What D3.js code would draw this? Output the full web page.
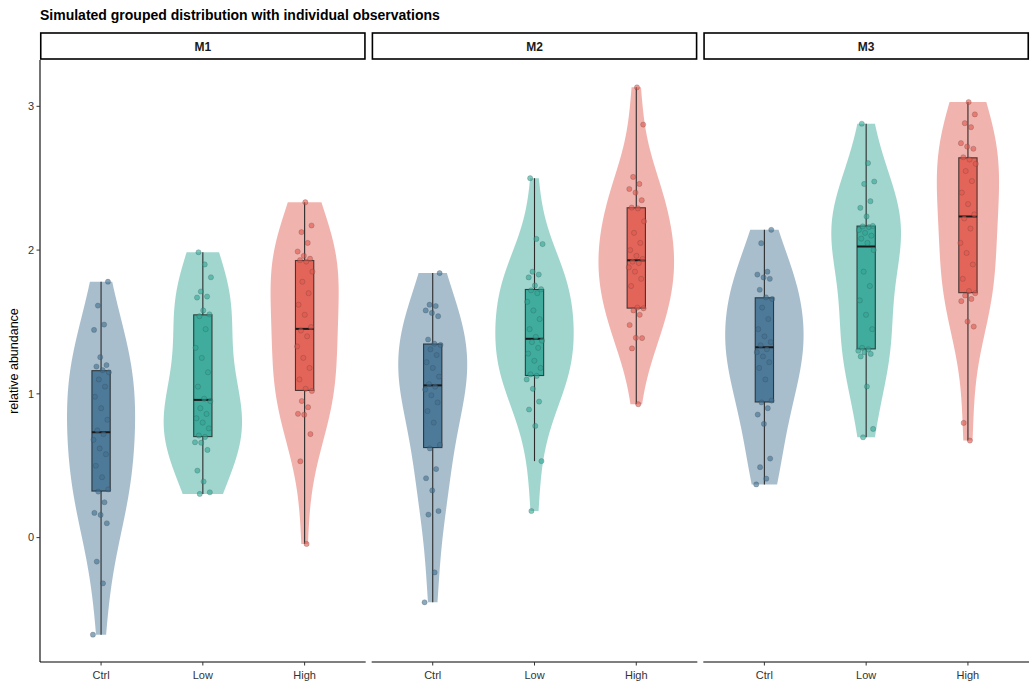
<!DOCTYPE html>
<html>
<head>
<meta charset="utf-8">
<style>
  body { margin: 0; background: #fff; font-family: "Liberation Sans", Arial, sans-serif; }
  .tick-label { font-size: 11px; fill: #333; }
  .strip-label { font-size: 12px; font-weight: bold; fill: #1a1a1a; }
  .title { font-size: 14px; font-weight: bold; fill: #000; }
  .axis-title { font-size: 12.5px; fill: #000; }
</style>
</head>
<body>
<svg id="chart" width="1036" height="690"></svg>
<script src="https://cdnjs.cloudflare.com/ajax/libs/d3/7.8.5/d3.min.js"></script>
<script>
// facets and groups
const facets = ["M1", "M2", "M3"];
const groups = ["Ctrl", "Low", "High"];
const groupColors = ["#3E6E90", "#2EA595", "#E0574B"];
const yTicks = [0, 1, 2, 3];

// observations (30 per group)
const m1Ctrl = [-0.675, -0.318, -0.167, 0.1, 0.158, 0.172, 0.246, 0.32, 0.335, 0.42,
  0.5, 0.58, 0.62, 0.68, 0.72, 0.746, 0.82, 0.9, 0.98, 1.05,
  1.1, 1.15, 1.165, 1.19, 1.2, 1.255, 1.445, 1.482, 1.614, 1.78];
const m1Low = [0.304, 0.315, 0.39, 0.466, 0.61, 0.66, 0.663, 0.7, 0.71, 0.76,
  0.8, 0.83, 0.86, 0.9, 0.95, 0.966, 1.05, 1.15, 1.25, 1.32,
  1.45, 1.54, 1.553, 1.58, 1.67, 1.677, 1.712, 1.811, 1.9, 1.985];
const m1High = [-0.044, 0.531, 0.72, 0.855, 0.861, 0.907, 0.95, 1.02, 1.035, 1.1,
  1.18, 1.25, 1.33, 1.4, 1.44, 1.464, 1.55, 1.62, 1.7, 1.78,
  1.85, 1.92, 1.93, 1.94, 1.96, 1.99, 2.05, 2.125, 2.171, 2.333];
const m2Ctrl = [-0.45, -0.242, 0.16, 0.185, 0.328, 0.413, 0.477, 0.62, 0.645, 0.8,
  0.88, 0.94, 0.99, 1.03, 1.05, 1.068, 1.12, 1.18, 1.22, 1.27,
  1.31, 1.34, 1.349, 1.378, 1.54, 1.563, 1.58, 1.611, 1.62, 1.84];
const m2Low = [0.185, 0.532, 0.777, 0.891, 0.946, 1.035, 1.1, 1.125, 1.135, 1.18,
  1.23, 1.28, 1.32, 1.36, 1.37, 1.396, 1.45, 1.52, 1.58, 1.64,
  1.7, 1.72, 1.728, 1.754, 1.81, 1.83, 1.85, 2.042, 2.078, 2.5];
const m2High = [0.928, 1.316, 1.388, 1.39, 1.479, 1.55, 1.58, 1.595, 1.6, 1.75,
  1.8, 1.85, 1.88, 1.91, 1.92, 1.938, 1.96, 2.0, 2.05, 2.12,
  2.2, 2.29, 2.296, 2.347, 2.4, 2.425, 2.46, 2.509, 2.873, 3.132];
const m3Ctrl = [0.37, 0.41, 0.49, 0.55, 0.791, 0.856, 0.9, 0.94, 0.953, 1.1,
  1.18, 1.22, 1.26, 1.29, 1.31, 1.338, 1.36, 1.4, 1.45, 1.52,
  1.6, 1.66, 1.671, 1.724, 1.8, 1.81, 1.83, 1.85, 2.048, 2.141];
const m3Low = [0.698, 0.756, 1.051, 1.26, 1.278, 1.29, 1.3, 1.31, 1.32, 1.45,
  1.55, 1.65, 1.75, 1.85, 2.0, 2.05, 2.08, 2.1, 2.12, 2.14,
  2.16, 2.165, 2.168, 2.234, 2.294, 2.34, 2.46, 2.477, 2.605, 2.879];
const m3High = [0.675, 0.798, 1.468, 1.503, 1.645, 1.66, 1.684, 1.7, 1.715, 1.8,
  1.9, 1.98, 2.05, 2.15, 2.22, 2.248, 2.32, 2.4, 2.48, 2.55,
  2.6, 2.63, 2.646, 2.705, 2.72, 2.744, 2.855, 2.883, 2.944, 3.03];

const facetData = {
  M1: [m1Ctrl, m1Low, m1High],
  M2: [m2Ctrl, m2Low, m2High],
  M3: [m3Ctrl, m3Low, m3High]
};

const width = 1036, height = 690;
const plotTop = 60, plotBottom = 662, left = 40, right = 1029;
const stripTop = 33;
const bwAdjust = 1.3;

const svg = d3.select("#chart");

// y scale with 5% expansion like ggplot
const allVals = [].concat(...facets.map(f => [].concat(...facetData[f])));
const [vMin, vMax] = d3.extent(allVals);
const pad = (vMax - vMin) * 0.05;
const y = d3.scaleLinear().domain([vMin - pad, vMax + pad]).range([plotBottom, plotTop]);

const panelX = d3.scaleBand().domain(facets).range([left, right]).paddingInner(0.018);
const pw = panelX.bandwidth();

function nrd0(v) {
  const s = d3.deviation(v);
  const iqr = d3.quantile(v, 0.75) - d3.quantile(v, 0.25);
  const lo = Math.min(s, iqr / 1.34);
  return 0.9 * lo * Math.pow(v.length, -0.2);
}

function kde(v, bw, n) {
  const lo = d3.min(v), hi = d3.max(v);
  const out = [];
  for (let i = 0; i < n; i++) {
    const t = lo + (hi - lo) * i / (n - 1);
    let s = 0;
    v.forEach(x => {
      const z = (t - x) / bw;
      s += Math.exp(-0.5 * z * z);
    });
    out.push({ t: t, d: s / (v.length * bw * Math.sqrt(2 * Math.PI)) });
  }
  return out;
}

// title
svg.append("text").attr("class", "title").attr("x", left).attr("y", 20)
  .text("Simulated grouped distribution with individual observations");

// y axis title
svg.append("text").attr("class", "axis-title")
  .attr("transform", `translate(18,${(plotTop + plotBottom) / 2}) rotate(-90)`)
  .attr("text-anchor", "middle")
  .text("relative abundance");

// y axis (only on first panel)
const yAxis = svg.append("g");
yAxis.append("line").attr("x1", left).attr("x2", left)
  .attr("y1", plotTop).attr("y2", plotBottom)
  .attr("stroke", "#000").attr("stroke-width", 1.1);
yTicks.forEach(t => {
  yAxis.append("line").attr("x1", left - 3.5).attr("x2", left)
    .attr("y1", y(t)).attr("y2", y(t)).attr("stroke", "#333").attr("stroke-width", 1);
  yAxis.append("text").attr("class", "tick-label")
    .attr("x", left - 6).attr("y", y(t)).attr("dy", "0.35em")
    .attr("text-anchor", "end").text(t);
});

facets.forEach(f => {
  const x0 = panelX(f);
  const g = svg.append("g");
  const x = d3.scalePoint().domain(groups).range([x0, x0 + pw]).padding(0.6);
  const unit = x.step();
  const violinHalf = unit * 0.77 / 2;
  const boxHalf = unit * 0.18 / 2;

  // strip
  g.append("rect").attr("x", x0 + 0.75).attr("y", stripTop)
    .attr("width", pw - 1.5).attr("height", plotTop - stripTop - 1)
    .attr("fill", "#fff").attr("stroke", "#000").attr("stroke-width", 1.6);
  g.append("text").attr("class", "strip-label")
    .attr("x", x0 + pw / 2).attr("y", (stripTop + plotTop) / 2).attr("dy", "0.35em")
    .attr("text-anchor", "middle").text(f);

  // bottom axis
  g.append("line").attr("x1", x0).attr("x2", x0 + pw)
    .attr("y1", plotBottom).attr("y2", plotBottom)
    .attr("stroke", "#000").attr("stroke-width", 1.1);
  groups.forEach(gr => {
    g.append("line").attr("x1", x(gr)).attr("x2", x(gr))
      .attr("y1", plotBottom).attr("y2", plotBottom + 3.5)
      .attr("stroke", "#333").attr("stroke-width", 1);
    g.append("text").attr("class", "tick-label")
      .attr("x", x(gr)).attr("y", plotBottom + 17)
      .attr("text-anchor", "middle").text(gr);
  });

  // densities, scaled by area within the panel
  const series = facetData[f].map(v => v.slice().sort(d3.ascending));
  const dens = series.map(v => kde(v, nrd0(v) * bwAdjust, 512));
  const maxD = d3.max(dens, ds => d3.max(ds, p => p.d));
  const w = d3.scaleLinear().domain([0, maxD]).range([0, violinHalf]);

  series.forEach((v, gi) => {
    const cx = x(groups[gi]);
    const col = groupColors[gi];

    const area = d3.area()
      .y(p => y(p.t))
      .x0(p => cx - w(p.d))
      .x1(p => cx + w(p.d));
    g.append("path").attr("d", area(dens[gi]))
      .attr("fill", col).attr("fill-opacity", 0.45).attr("stroke", "none");

    const q1 = d3.quantile(v, 0.25), med = d3.quantile(v, 0.5), q3 = d3.quantile(v, 0.75);
    const iqr = q3 - q1;
    const lowW = d3.min(v.filter(d => d >= q1 - 1.5 * iqr));
    const highW = d3.max(v.filter(d => d <= q3 + 1.5 * iqr));

    g.append("line").attr("x1", cx).attr("x2", cx)
      .attr("y1", y(highW)).attr("y2", y(q3))
      .attr("stroke", "#2b2b2b").attr("stroke-width", 1.1);
    g.append("line").attr("x1", cx).attr("x2", cx)
      .attr("y1", y(q1)).attr("y2", y(lowW))
      .attr("stroke", "#2b2b2b").attr("stroke-width", 1.1);
    g.append("rect").attr("x", cx - boxHalf).attr("y", y(q3))
      .attr("width", boxHalf * 2).attr("height", y(q1) - y(q3))
      .attr("fill", col).attr("fill-opacity", 0.85)
      .attr("stroke", "#1f1f1f").attr("stroke-opacity", 0.8).attr("stroke-width", 1.1);
    g.append("line").attr("x1", cx - boxHalf).attr("x2", cx + boxHalf)
      .attr("y1", y(med)).attr("y2", y(med))
      .attr("stroke", "#1a1a1a").attr("stroke-width", 2);

    // jittered points (deterministic spread)
    g.selectAll(null).data(v).join("circle")
      .attr("cx", (d, i) => cx + (((i * 0.618034 + gi * 0.31) % 1) - 0.5) * unit * 0.16)
      .attr("cy", d => y(d))
      .attr("r", 2.6)
      .attr("fill", col).attr("fill-opacity", 0.6)
      .attr("stroke", "#3a3a3a").attr("stroke-opacity", 0.35).attr("stroke-width", 0.6);
  });
});
</script>
</body>
</html>
